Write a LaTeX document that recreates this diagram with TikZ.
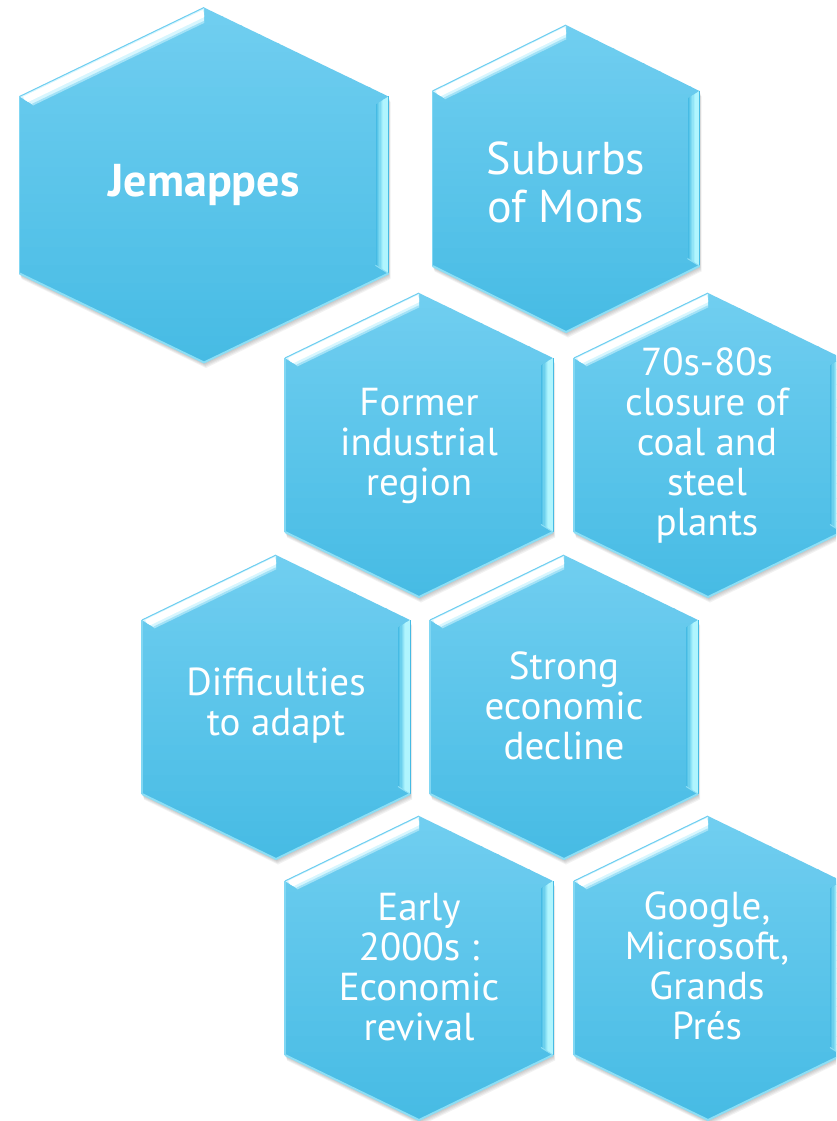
\documentclass[tikz,border=0pt]{standalone}
\usepackage{fontspec}
\setmainfont{PT Sans}
\definecolor{hexTop}{RGB}{112,206,240}
\definecolor{hexBot}{RGB}{70,187,228}
\definecolor{bevelLight}{RGB}{215,246,254}
\definecolor{bevelCyan}{RGB}{176,245,254}
\definecolor{edgeLight}{RGB}{140,222,245}
\tikzset{
  hextext/.style={text=white,align=center,inner sep=0pt},
  smalltext/.style={hextext,font=\fontsize{39}{40}\selectfont},
}
% #1 cx, #2 cy (pixels, downward), #3 half width, #4 half height, #5 corner drop, #6 bevel
\newcommand\hexcell[6]{%
  \begin{scope}[shift={(#1,-#2)}]
    \pgfmathsetmacro\hw{#3}\pgfmathsetmacro\hh{#4}\pgfmathsetmacro\ht{#5}\pgfmathsetmacro\bd{#6}
    \pgfmathsetmacro\sq{sqrt(1+(\ht/\hw)^2)}
    \pgfmathsetmacro\iw{\hw-\bd}\pgfmathsetmacro\ih{\hh-\bd*\sq}\pgfmathsetmacro\it{\ht*\iw/\hw}
    \pgfmathsetmacro\mw{\hw-\bd*0.4}\pgfmathsetmacro\mh{\hh-\bd*\sq*0.4}\pgfmathsetmacro\mt{\ht*\mw/\hw}
    \pgfmathsetmacro\yU{\hh-\ht}\pgfmathsetmacro\yL{-\hh+\ht}
    \pgfmathsetmacro\iyU{\ih-\it}\pgfmathsetmacro\iyL{-\ih+\it}
    \pgfmathsetmacro\myU{\mh-\mt}
    \pgfmathsetmacro\nh{-\hh}
    \pgfmathsetmacro\nw{-\hw}\pgfmathsetmacro\niw{-\iw}\pgfmathsetmacro\nmw{-\mw}
    % soft shadow
    \foreach \k in {1,...,5}{%
      \fill[black,opacity=0.05,shift={(0.4*\k,-1.1*\k)}]
        (0,\hh) -- (\hw,\yU) -- (\hw,\yL) -- (0,\nh) -- (\nw,\yL) -- (\nw,\yU) -- cycle;}
    % body with stepped vertical gradient
    \begin{scope}
      \clip (0,\hh) -- (\hw,\yU) -- (\hw,\yL) -- (0,\nh) -- (\nw,\yL) -- (\nw,\yU) -- cycle;
      \foreach \i in {0,...,39}{%
        \pgfmathsetmacro\ya{\hh-2*\hh*\i/40}
        \pgfmathsetmacro\yb{\hh-2*\hh*(\i+1)/40-0.6}
        \pgfmathtruncatemacro\pc{100-2.5*\i}
        \fill[hexTop!\pc!hexBot] (\nw,\ya) rectangle (\hw,\yb);}
    \end{scope}
    % top-left bevel
    \fill[bevelLight] (\nw,\yU) -- (0,\hh) -- (0,\ih) -- (\niw,\iyU) -- cycle;
    \begin{scope}
      \clip (\nw,\yU) -- (0,\hh) -- (0,\ih) -- (\niw,\iyU) -- cycle;
      \draw[white,line width=7pt] (\nmw,\myU) -- (0,\mh);
    \end{scope}
    \draw[hexTop!50!bevelLight,line width=2pt] (\niw,\iyU) -- (0,\ih);
    \draw[hexTop,line width=1pt] (\nw,\yU) -- (0,\hh);
    % right bevel with stepped horizontal gradient
    \begin{scope}
      \clip (\hw,\yU) -- (\hw,\yL) -- (\iw,\iyL) -- (\iw,\iyU) -- cycle;
      \foreach \j in {0,...,9}{%
        \pgfmathsetmacro\xa{\iw+\bd*\j/10}
        \pgfmathsetmacro\xb{\iw+\bd*(\j+1)/10+0.3}
        \pgfmathtruncatemacro\pc{min(100,18*\j)}
        \fill[bevelCyan!\pc!hexBot] (\xa,\yU) rectangle (\xb,\yL);}
    \end{scope}
    \draw[hexBot,line width=0.8pt] (\hw,\yU) -- (\hw,\yL);
    % lower edges
    \draw[edgeLight,line width=2pt,line join=round] (\hw,\yL) -- (0,\nh) -- (\nw,\yL);
    \draw[edgeLight!60!hexTop,line width=1.5pt] (\nw,\yL) -- (\nw,\yU);
    \draw[edgeLight,line width=1pt] (\hw,\yL) -- (\iw,\iyL);
  \end{scope}}
\begin{document}
\begin{tikzpicture}[x=1pt,y=1pt]
  \useasboundingbox (0,0) rectangle (836,-1121);
  \clip (0,0) rectangle (836,-1121);
  \fill[white] (0,0) rectangle (836,-1121);
  \hexcell{204}{185}{184.5}{177.5}{89}{13}
  \hexcell{566}{178.5}{133.5}{153.5}{66}{12}
  \hexcell{419}{445}{134}{152}{65}{12}
  \hexcell{708}{445}{134}{152}{65}{12}
  \hexcell{276}{707}{134}{152}{65}{12}
  \hexcell{564}{707}{134}{152}{65}{12}
  \hexcell{419}{968}{134}{152}{65}{12}
  \hexcell{708}{968}{134}{152}{65}{12}
  \node[hextext,font=\fontsize{46}{48}\selectfont\bfseries] (jem) at (204,-185) {Jemappes};
  \node[hextext,font=\fontsize{46}{48}\selectfont] (sub) at (566,-182) {Suburbs\\of Mons};
  \node[smalltext] (former) at (419,-446) {Former\\industrial\\region};
  \node[smalltext] (closure) at (707,-446) {70s-80s\\closure of\\coal and\\steel\\plants};
  \node[smalltext] (diff) at (276,-706) {Difficulties\\to adapt};
  \node[smalltext] (decline) at (564,-706) {Strong\\economic\\decline};
  \node[smalltext] (revival) at (419,-967) {Early\\2000s :\\Economic\\revival};
  \node[smalltext] (google) at (707,-966) {Google,\\Microsoft,\\Grands\\Prés};
\end{tikzpicture}
\end{document}
